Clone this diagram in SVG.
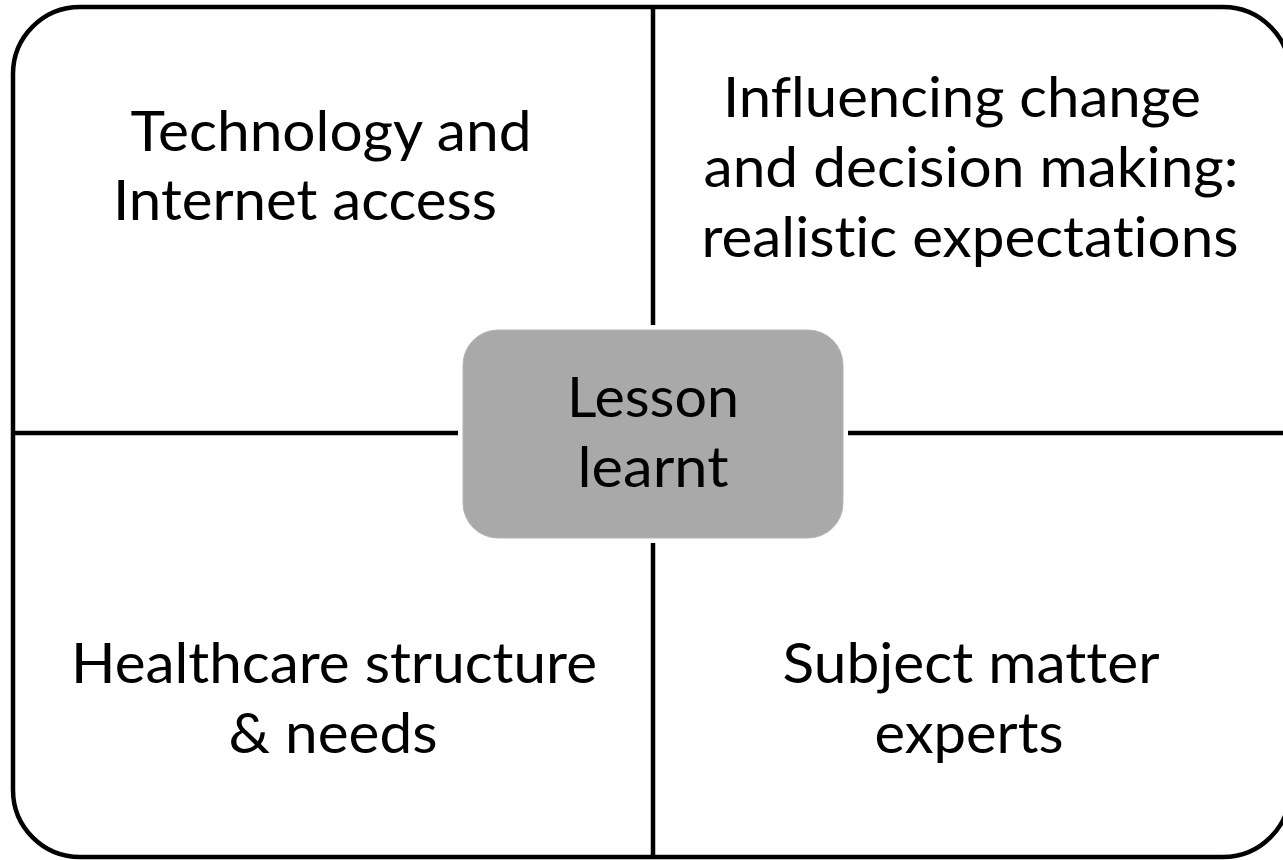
<svg xmlns="http://www.w3.org/2000/svg" width="1283" height="860" viewBox="0 0 1283 860">
  <style>
    .lbl { font-family: Lato, "Open Sans", "Liberation Sans", sans-serif; font-size: 57px; fill: #000; text-anchor: middle; font-variant-ligatures: none; font-feature-settings: "liga" 0, "clig" 0; }
    .ln { stroke: #000; stroke-width: 4.5; fill: none; }
  </style>
  <rect x="0" y="0" width="1283" height="860" fill="#fff"/>
  <g id="frame">
    <rect class="ln" x="13" y="7" width="1277" height="850" rx="67" ry="67"/>
  </g>
  <g id="connectors">
    <line class="ln" x1="653" y1="7" x2="653" y2="325"/>
    <line class="ln" x1="653" y1="543" x2="653" y2="857"/>
    <line class="ln" x1="13" y1="433" x2="458" y2="433"/>
    <line class="ln" x1="848" y1="433" x2="1290" y2="433"/>
  </g>
  <g id="node-tech">
    <text class="lbl" x="331" y="151" textLength="401" lengthAdjust="spacingAndGlyphs">Technology and</text>
    <text class="lbl" x="305" y="220" textLength="384" lengthAdjust="spacingAndGlyphs">Internet access</text>
  </g>
  <g id="node-influence">
    <text class="lbl" x="962" y="117" textLength="478" lengthAdjust="spacingAndGlyphs">Influencing change</text>
    <text class="lbl" x="971" y="187" textLength="535" lengthAdjust="spacingAndGlyphs">and decision making:</text>
    <text class="lbl" x="970" y="257" textLength="537" lengthAdjust="spacingAndGlyphs">realistic expectations</text>
  </g>
  <g id="node-healthcare">
    <text class="lbl" x="334" y="683" textLength="526" lengthAdjust="spacingAndGlyphs">Healthcare structure</text>
    <text class="lbl" x="333" y="753" textLength="209" lengthAdjust="spacingAndGlyphs">&amp; needs</text>
  </g>
  <g id="node-experts">
    <text class="lbl" x="971" y="683" textLength="377" lengthAdjust="spacingAndGlyphs">Subject matter</text>
    <text class="lbl" x="969" y="753" textLength="189" lengthAdjust="spacingAndGlyphs">experts</text>
  </g>
  <g id="node-center">
    <rect x="463" y="330" width="380" height="208" rx="35" ry="35" fill="#a9a9a9" stroke="#b4b4b4" stroke-width="1"/>
    <text class="lbl" x="653" y="417" textLength="172" lengthAdjust="spacingAndGlyphs">Lesson</text>
    <text class="lbl" x="653" y="487" textLength="151" lengthAdjust="spacingAndGlyphs">learnt</text>
  </g>
</svg>
